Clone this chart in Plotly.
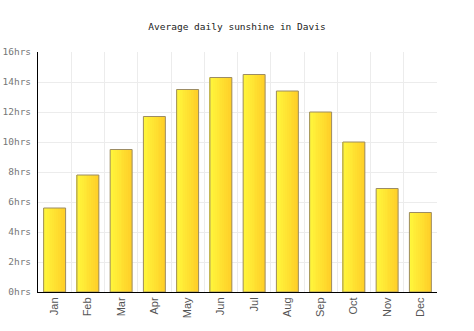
import plotly.graph_objects as go

months = ["Jan", "Feb", "Mar", "Apr", "May", "Jun", "Jul", "Aug", "Sep", "Oct", "Nov", "Dec"]
sunshine = [5.6, 7.8, 9.5, 11.7, 13.5, 14.3, 14.5, 13.4, 12.0, 10.0, 6.9, 5.3]
y_ticks = [0, 2, 4, 6, 8, 10, 12, 14, 16]

bar_w = 0.66
n_slices = 12
c0 = (255, 246, 60)
c1 = (255, 208, 40)

fig = go.Figure()
sw = bar_w / n_slices
for i in range(n_slices):
    t = i / (n_slices - 1)
    col = "rgb(%d,%d,%d)" % tuple(round(a + (b - a) * t) for a, b in zip(c0, c1))
    fig.add_trace(go.Bar(
        x=months, y=sunshine, width=sw * 1.05, offset=-bar_w / 2 + i * sw,
        marker=dict(color=col, line=dict(width=0)), hoverinfo="skip", showlegend=False,
    ))
fig.add_trace(go.Bar(
    x=months, y=sunshine, width=bar_w, offset=-bar_w / 2,
    marker=dict(color="rgba(0,0,0,0)", line=dict(color="#9c8c64", width=1)),
    showlegend=False,
))

fig.update_layout(
    barmode="overlay",
    width=474, height=331,
    margin=dict(l=38, r=37, t=52, b=39),
    paper_bgcolor="white", plot_bgcolor="white",
    title=dict(text="Average daily sunshine in Davis", x=0.5, xanchor="center", y=0.918, yanchor="middle",
               font=dict(family="DejaVu Sans Mono", size=9.5, color="#222")),
    xaxis=dict(
        type="category", tickangle=-90, tickson="boundaries", ticks="",
        showgrid=True, gridcolor="#ececec", gridwidth=1,
        showline=True, linecolor="#000", linewidth=1,
        tickfont=dict(family="Liberation Sans", size=11, color="#555"),
        range=[-0.5, 11.5], automargin=False,
    ),
    yaxis=dict(
        range=[0, 16], tickvals=y_ticks, ticktext=[f"{v}hrs" for v in y_ticks],
        showgrid=True, gridcolor="#ececec", gridwidth=1,
        showline=True, linecolor="#000", linewidth=1, zeroline=False, ticks="",
        tickfont=dict(family="DejaVu Sans Mono", size=9.5, color="#777"),
        ticklabelstandoff=4, automargin=False,
    ),
)
fig.write_html("out.html")
